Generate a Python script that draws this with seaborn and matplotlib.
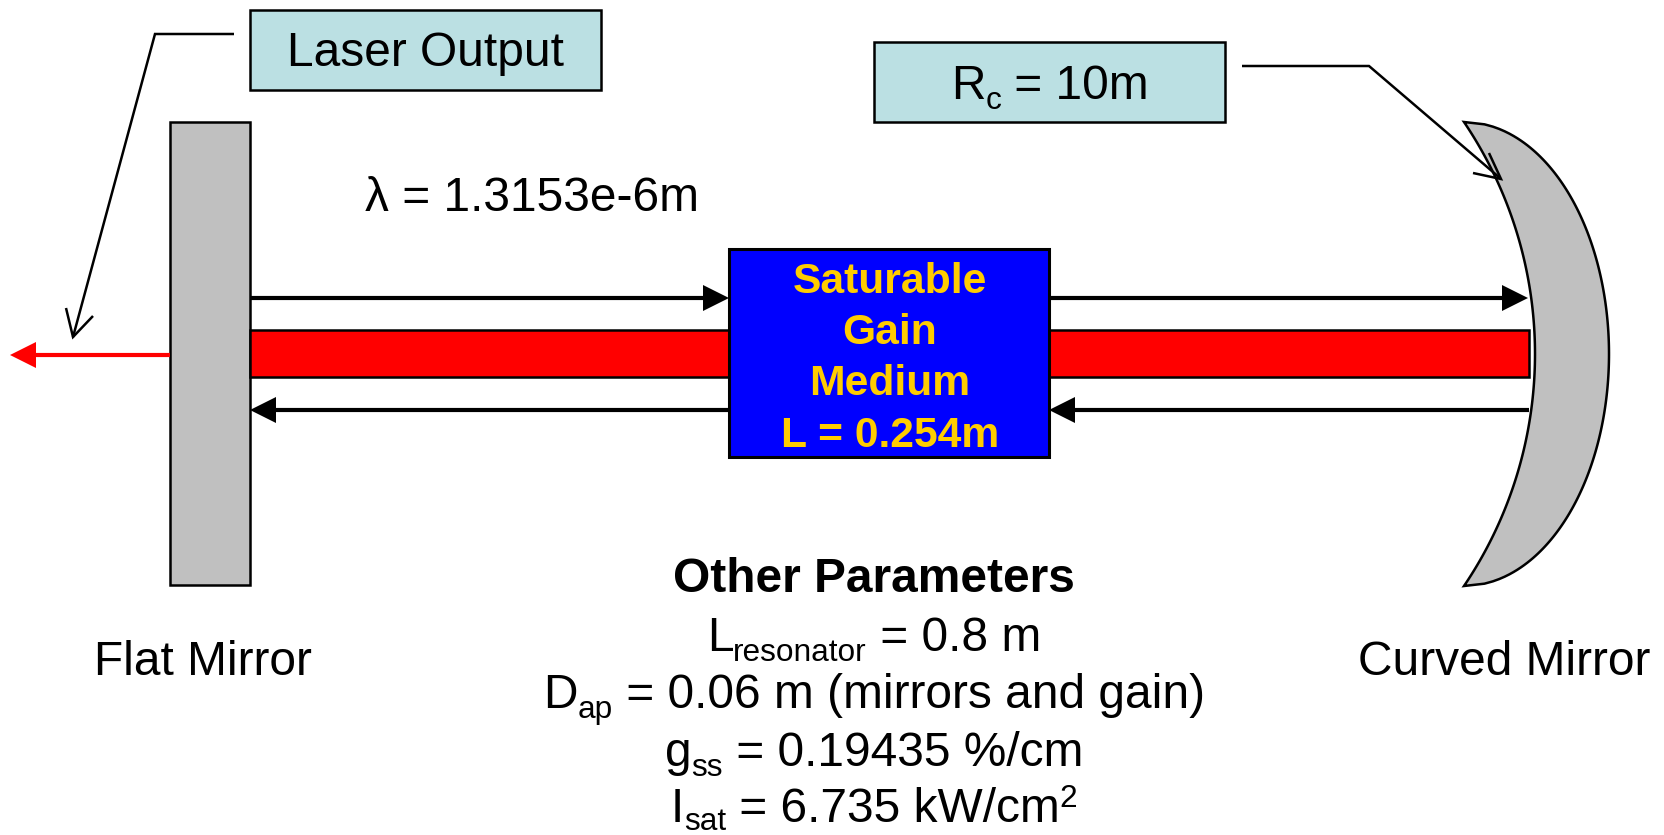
import numpy as np
import matplotlib
matplotlib.use("Agg")
import matplotlib.pyplot as plt
from matplotlib.patches import Rectangle, Polygon
import seaborn as sns

sns.set_theme(style="white")
plt.rcParams['font.family'] = ['Liberation Sans', 'DejaVu Sans']

MAIN = 34.45
SUB = 22.8
BLACK, RED, GRAY, TEAL, BLUE, GOLD = "#000000", "#FF0000", "#C0C0C0", "#BBE0E3", "#0000FF", "#FFCC00"

# Diagram geometry, in pixels of the reference
flat_mirror = (170, 122, 80, 463)
gain_box = (729, 249, 320, 208)
output_box = (250, 10, 351, 80)
rc_box = (874, 42, 351, 80)
red_bars = [(250, 330, 479, 47), (1049, 330, 480, 47)]
beams = [(250, 729, 298), (1049, 1528, 298), (729, 250, 410), (1529, 1049, 410)]
output_beam = (170, 10, 355)
callout_left = ([234, 155, 73], [34, 34, 337])
barbs_left = ([66, 73, 93], [308, 337, 316])
callout_right = ([1242, 1369, 1500], [66, 66, 178])
barbs_right = ([1473, 1501, 1489], [173, 179, 153])
mirror_tips_x, mirror_top, mirror_bottom = 1464, 122, 586
inner_arc_peak, outer_arc_peak = 1535, 1609

fig = plt.figure(figsize=(16.65, 8.35), dpi=100, facecolor="white")
ax = fig.add_axes([0, 0, 1, 1])
ax.set_xlim(0, 1665)
ax.set_ylim(835, 0)
ax.axis("off")


def box(rect, fc, lw=1.8, z=2):
    x, y, w, h = rect
    ax.add_patch(Rectangle((x, y), w, h, fc=fc, ec=BLACK, lw=lw, zorder=z))


def line(xs, ys, color=BLACK, lw=1.8, z=5):
    sns.lineplot(x=xs, y=ys, sort=False, estimator=None, color=color, lw=lw,
                 zorder=z, ax=ax, legend=False, solid_capstyle="butt",
                 solid_joinstyle="miter")


def arrow(x0, x1, y, color=BLACK, z=4):
    d = np.sign(x1 - x0)
    line([x0, x1 - d * 20], [y, y], color=color, lw=3.0, z=z)
    ax.add_patch(Polygon([(x1, y), (x1 - d * 26, y - 13), (x1 - d * 26, y + 13)],
                         closed=True, fc=color, ec="none", zorder=z))


# Curved mirror: ellipse on the back, circular arc on the front
cy = (mirror_top + mirror_bottom) / 2
half = (mirror_bottom - mirror_top) / 2
sag = inner_arc_peak - mirror_tips_x
R = (half ** 2 + sag ** 2) / (2 * sag)
t = np.linspace(-half, half, 200)
inner_x = inner_arc_peak - R + np.sqrt(R ** 2 - t ** 2)
outer_x = mirror_tips_x + (outer_arc_peak - mirror_tips_x) * np.sqrt(1 - (t / half) ** 2)
pts = np.r_[np.c_[outer_x, cy + t], np.c_[inner_x[::-1], cy + t[::-1]]]
ax.add_patch(Polygon(pts, closed=True, fc=GRAY, ec=BLACK, lw=1.8, zorder=2,
                     joinstyle="miter"))

box(flat_mirror, GRAY)
for r in red_bars:
    box(r, RED, z=2)
box(gain_box, BLUE, lw=2.2, z=3)
box(output_box, TEAL)
box(rc_box, TEAL)
for x0, x1, y in beams:
    arrow(x0, x1, y)
arrow(output_beam[0], output_beam[1], output_beam[2], color=RED)
line(*callout_left)
line(*barbs_left)
line(*callout_right)
line(*barbs_right)


def label(x, y, s, size=MAIN, color=BLACK, weight="normal", ha="center"):
    return ax.text(x, y, s, fontsize=size, color=color, fontweight=weight, ha=ha,
                   va="baseline", zorder=6)


fig.canvas.draw()
rend = fig.canvas.get_renderer()


def advance(s, size):
    a = ax.text(0, 0, "x" + s + "x", fontsize=size)
    b = ax.text(0, 0, "xx", fontsize=size)
    w = a.get_window_extent(rend).width - b.get_window_extent(rend).width
    a.remove()
    b.remove()
    return w


def composed(xc, y, pieces):
    total = sum(advance(s, z) for s, z, _ in pieces)
    x = xc - total / 2
    for s, z, dy in pieces:
        ax.text(x, y + dy, s, fontsize=z, color=BLACK, ha="left", va="baseline", zorder=6)
        x += advance(s, z)


label(426, 66, "Laser Output")
composed(1050, 99, [("R", MAIN, 0), ("c", SUB, 10), (" = 10m", MAIN, 0)])
label(365, 211, "λ = 1.3153e-6m", ha="left")
label(203, 675, "Flat Mirror")
label(1504, 675, "Curved Mirror")

gain_lines = ["Saturable", "Gain", "Medium", "L = 0.254m"]
gain_baselines = [293, 344, 395, 447]
for s, y in zip(gain_lines, gain_baselines):
    label(890, y, s, size=30.7, color=GOLD, weight="bold")

label(874, 592, "Other Parameters", weight="bold")
composed(874, 651, [("L", MAIN, 0), ("resonator", SUB, 10), (" = 0.8 m", MAIN, 0)])
composed(874, 708, [("D", MAIN, 0), ("ap", SUB, 10), (" = 0.06 m (mirrors and gain)", MAIN, 0)])
composed(874, 766, [("g", MAIN, 0), ("ss", SUB, 10), (" = 0.19435 %/cm", MAIN, 0)])
composed(874, 822, [("I", MAIN, 0), ("sat", SUB, 8), (" = 6.735 kW/cm", MAIN, 0), ("2", SUB, -15)])

fig.savefig("out.png", dpi=100, facecolor="white")
